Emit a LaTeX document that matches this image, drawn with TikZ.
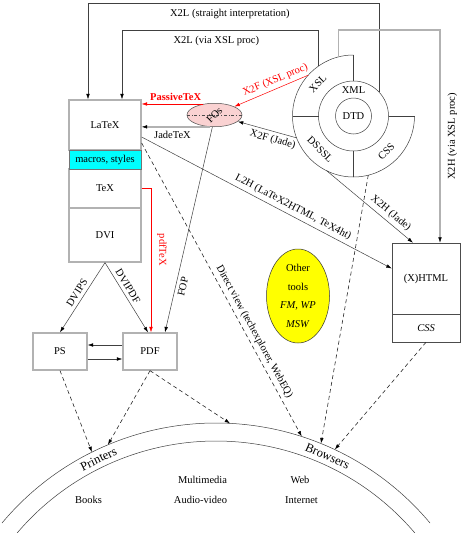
\documentclass[tikz,border=0pt]{standalone}
\usepackage{fontspec}
\setmainfont{Liberation Serif}
\usetikzlibrary{arrows.meta,shapes.geometric,calc}
\definecolor{cy}{RGB}{0,255,255}
\definecolor{yl}{RGB}{255,255,0}
\definecolor{pk}{RGB}{250,210,210}
\definecolor{rd}{RGB}{255,0,0}
\begin{document}
\begin{tikzpicture}[x=1pt,y=1pt,
  every node/.style={font=\fontsize{10.5}{12.5}\selectfont},
  ln/.style={draw=black!75, line width=0.5pt},
  tipk/.style={-{Latex[length=5.5pt,width=3.6pt,color=black]}},
  arr/.style={ln, tipk},
  arrred/.style={draw=rd, line width=0.5pt, -{Latex[length=5.5pt,width=3.6pt]}},
  arrgray/.style={draw=black!30, line width=1.3pt, -{Latex[length=5.5pt,width=3.6pt,color=black,line width=0.5pt]}},
  dsh/.style={draw=black!85, line width=0.6pt, tipk, dash pattern=on 4pt off 3pt},
  bx/.style={draw=black!30, line width=1.3pt, minimum width=72pt, inner sep=0pt},
  hb/.style={draw=black!70, line width=0.5pt, minimum width=68pt, inner sep=0pt},
  circ/.style={circle, draw=black!75, line width=0.5pt, inner sep=0pt}
]
\useasboundingbox (0,0) rectangle (462,-533);

% ---------------- LaTeX stack ----------------
\node[bx, minimum height=50pt] (latex) at (105,-125) {LaTeX};
\node[bx, minimum height=39pt] (tex) at (105,-188.5) {TeX};
\node[bx, minimum height=54pt] (dvi) at (105,-235) {DVI};
\node[draw=black!55, line width=0.6pt, fill=cy, minimum width=72pt, minimum height=19pt, inner sep=0pt] (macros) at (105,-159.5) {macros, styles};

% ---------------- PS / PDF ----------------
\node[bx, minimum width=54pt, minimum height=37pt] (ps) at (60,-351.5) {PS};
\node[bx, minimum width=54pt, minimum height=37pt] (pdf) at (150,-351.5) {PDF};

% ---------------- (X)HTML ----------------
\node[hb, minimum height=71pt] (html) at (426,-278.5) {(X)HTML};
\node[hb, minimum height=28pt] (css) at (426,-328) {\textit{CSS}};

% ---------------- FOs ----------------
\node[ellipse, draw=black!70, line width=0.5pt, fill=pk, minimum width=55pt, minimum height=23.5pt, inner sep=0pt] (fos) at (214.5,-115) {};
\draw[black!70, line width=0.4pt, dash dot] (fos.west) -- (fos.east);
\node[rotate=45] (fostxt) at (fos) {FOs};

% ---------------- Other tools ----------------
\node[ellipse, draw=black!80, line width=0.5pt, fill=yl, minimum width=63pt, minimum height=94pt, inner sep=0pt, align=center, font=\fontsize{10.5}{18.5}\selectfont] (other) at (298,-296) {Other\\tools\\\textit{FM, WP}\\\textit{MSW}};

% ---------------- XML rings ----------------
\coordinate (ctr) at (353.5,-116);
\draw[ln] ($(ctr)+(90:61)$) arc[start angle=90, end angle=360, radius=61];
\foreach \a in {0,90,180,270} \draw[ln] ($(ctr)+(\a:35)$) -- ($(ctr)+(\a:61)$);
\node[circ, minimum size=70pt] (xmlc) at (ctr) {};
\node[circ, minimum size=36pt] (dtd) at (ctr) {DTD};
\node (xmllbl) at ($(ctr)+(0,26)$) {XML};
\node[rotate=45] (xsllbl) at ($(ctr)+(138:48)$) {XSL};
\node[rotate=-45] (dsssllbl) at ($(ctr)+(225:47)$) {DSSSL};
\node[rotate=45] (csslbl) at ($(ctr)+(-47:48)$) {CSS};

\coordinate (xslA) at ($(ctr)+(125:61)$);
\coordinate (xslB) at ($(ctr)+(104:61)$);
\coordinate (xslF) at ($(ctr)+(138:61)$);
\coordinate (dssF) at ($(ctr)+(201:61)$);
\coordinate (dssH) at ($(ctr)+(244:61)$);
\coordinate (cssD) at ($(ctr)+(284:61)$);
\coordinate (topA) at (0,-3);
\coordinate (topB) at (0,-30);

% ---------------- World arcs ----------------
\coordinate (earth) at (216,-702);
\draw[ln] ($(earth)+(140.1:279)$) arc[start angle=140.1, end angle=39.9, radius=279];
\draw[ln] ($(earth)+(139.65:261)$) arc[start angle=139.65, end angle=40.35, radius=261];
\coordinate (pA) at ($(earth)+(116.4:279)$);
\coordinate (pB) at ($(earth)+(112.8:279)$);
\coordinate (pC) at ($(earth)+(87.1:279)$);
\coordinate (bA) at ($(earth)+(72.1:279)$);
\coordinate (bB) at ($(earth)+(67.9:279)$);
\coordinate (bC) at ($(earth)+(64.8:279)$);
\node[rotate=25.8, font=\fontsize{12.5}{14}\selectfont] (printers) at ($(earth)+(115.8:270)$) {Printers};
\node[rotate=-24.4, font=\fontsize{12.5}{14}\selectfont] (browsers) at ($(earth)+(65.6:270)$) {Browsers};
\node (multimedia) at (202.5,-480) {Multimedia};
\node (web) at (300,-480) {Web};
\node (books) at (88.5,-500) {Books};
\node (audio) at (200.5,-500) {Audio-video};
\node (internet) at (301.5,-500) {Internet};

% ---------------- Connectors ----------------
\draw[arr] (xmlc.44) -- (xmlc.44 |- topA) -| ([xshift=-17pt]latex.north)
  node[pos=0.256, below=3pt] {X2L (straight interpretation)};
\draw[arr] (xslA) -- (xslA |- topB) -| ([xshift=17pt]latex.north)
  node[pos=0.26, below=3pt] {X2L (via XSL proc)};
\draw[arrgray] (xslB) -- (xslB |- topB) -| ([xshift=14pt]html.north)
  node[pos=0.75, rotate=90, below, inner sep=7pt] {X2H (via XSL proc)};

\draw[arrred] (fos.135) -- (fos.135 -| latex.east)
  node[pos=0.45, above, text=rd, font=\fontsize{10.5}{12.5}\selectfont\bfseries] {PassiveTeX};
\draw[arrgray] (fos.250) -- (fos.250 -| latex.east)
  node[pos=0.55, below] {JadeTeX};
\draw[arrred] (xslF) -- (fos)
  node[pos=0.4, sloped, above, text=rd] {X2F (XSL proc)};
\draw[arr] (dssF) -- (fos)
  node[pos=0.37, sloped, below] {X2F (Jade)};
\draw[arr] (fos.260) -- ([xshift=15pt]pdf.north)
  node[pos=0.77, sloped, below] {FOP};
\draw[arr] ([yshift=-12pt]latex.east) -- ([yshift=10pt]html.west)
  node[pos=0.59, sloped, above] {L2H (LaTeX2HTML, TeX4ht)};
\draw[arr] (dssH) -- ([xshift=-13pt]html.north)
  node[pos=0.68, sloped, above] {X2H (Jade)};

\draw[arrred] (tex.east) -| ([xshift=1pt]pdf.north)
  node[pos=0.713, rotate=-90, above, inner sep=6pt, text=rd] {pdfTeX};
\draw[arr] (dvi.south) -- (ps.north)
  node[pos=0.49, sloped, above] {DVIPS};
\draw[arr] (dvi.south) -- ([xshift=-2pt]pdf.north)
  node[pos=0.39, sloped, above] {DVIPDF};
\draw[arr] ([yshift=6.5pt]pdf.west) -- ([yshift=6.5pt]ps.east);
\draw[arr] ([yshift=-7.5pt]ps.east) -- ([yshift=-7.5pt]pdf.west);

\draw[dsh] (ps.south) -- (pA);
\draw[dsh] (pdf.south) -- (pB);
\draw[dsh] (pdf.south) -- (pC);
\draw[dsh] ([yshift=-18pt]latex.east) -- (bA)
  node[pos=0.657, sloped, above] {Direct view (techexplorer, WebEQ)};
\draw[dsh] (cssD) -- (bB);
\draw[dsh] (css.south) -- (bC);
\end{tikzpicture}
\end{document}
